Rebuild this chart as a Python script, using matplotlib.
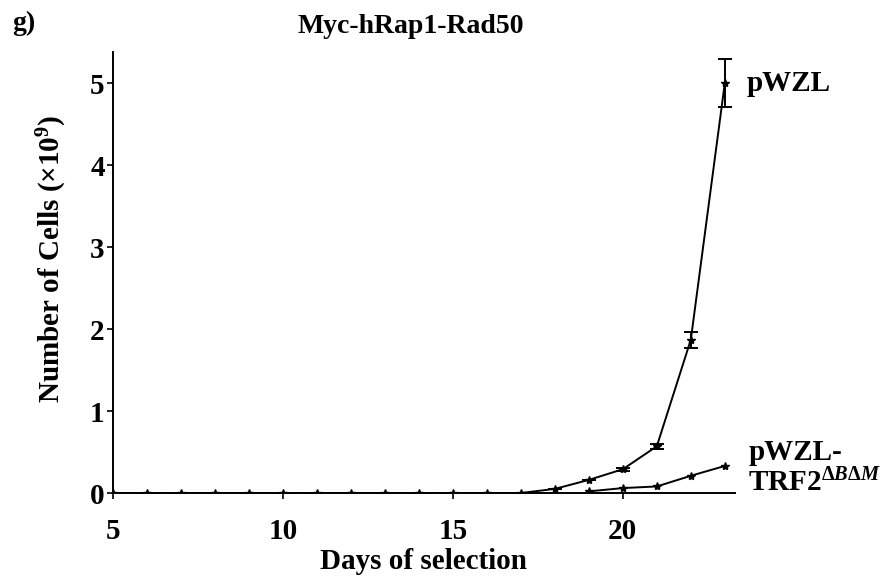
import matplotlib
matplotlib.use("Agg")
import matplotlib.pyplot as plt

days = list(range(5, 24))
pwzl = [0, 0, 0, 0, 0, 0, 0, 0, 0, 0, 0, 0, 0, 0.05, 0.16, 0.29, 0.57, 1.87, 5.0]
pwzl_err = [0, 0, 0, 0, 0, 0, 0, 0, 0, 0, 0, 0, 0, 0, 0, 0.02, 0.03, 0.1, 0.29]
trf2_days = [19, 20, 21, 22, 23]
trf2 = [0.02, 0.06, 0.08, 0.21, 0.33]

xticks = [5, 10, 15, 20]
yticks = [0, 1, 2, 3, 4, 5]

plt.rcParams['font.family'] = ['Liberation Serif', 'DejaVu Serif']
plt.rcParams['font.weight'] = 'bold'
plt.rcParams['mathtext.fontset'] = 'custom'
plt.rcParams['mathtext.rm'] = 'Liberation Serif:bold'
plt.rcParams['mathtext.bf'] = 'Liberation Serif:bold'
plt.rcParams['mathtext.it'] = 'Liberation Serif:italic:bold'
plt.rcParams['mathtext.default'] = 'bf'

fig = plt.figure(figsize=(8.93, 5.78), dpi=100)
ax = fig.add_axes([113/893, 1-493/578, (735-113)/893, (493-52)/578])

ax.errorbar(days, pwzl, yerr=pwzl_err, color='black', lw=1.4, marker='*', ms=6,
            capsize=5, elinewidth=1.4, capthick=1.4)
ax.plot(trf2_days, trf2, color='black', lw=1.4, marker='*', ms=6)

ax.set_xlim(5, 23.3)
ax.set_ylim(0, 5.38)
ax.set_xticks(xticks)
ax.set_yticks(yticks)
for s in ['top', 'right']:
    ax.spines[s].set_visible(False)
for s in ['left', 'bottom']:
    ax.spines[s].set_linewidth(1.4)
ax.tick_params(axis='x', direction='out', length=4, width=1.2, labelsize=21, pad=14)
ax.tick_params(axis='y', direction='out', length=4, width=1.2, labelsize=21, pad=2)
for lab in ax.get_xticklabels() + ax.get_yticklabels():
    lab.set_fontweight('bold')

ax.set_xlabel('Days of selection', fontsize=21, fontweight='bold', labelpad=2)
ax.set_ylabel('Number of Cells (×10$^{9}$)', fontsize=21, fontweight='bold')
ax.yaxis.set_label_coords(-0.07, 0.53)

fig.text(0.46, 1-33/578, 'Myc-hRap1-Rad50', fontsize=20, fontweight='bold', ha='center', va='baseline')
fig.text(12/893, 1-30/578, 'g)', fontsize=20, fontweight='bold', ha='left', va='baseline')

ax.annotate('pWZL', xy=(23, 5.0), xytext=(16, 0), textcoords='offset points',
            fontsize=21, fontweight='bold', va='center', ha='left', annotation_clip=False)
ax.annotate('pWZL-', xy=(23, 0.33), xytext=(17, 4), textcoords='offset points',
            fontsize=21, fontweight='bold', va='baseline', ha='left', annotation_clip=False)
ax.annotate(r'TRF2$^{\mathit{\Delta B\Delta M}}$', xy=(23, 0.0), xytext=(17, 1), textcoords='offset points',
            fontsize=21, fontweight='bold', va='baseline', ha='left', annotation_clip=False)

fig.savefig('out.png', dpi=100)
